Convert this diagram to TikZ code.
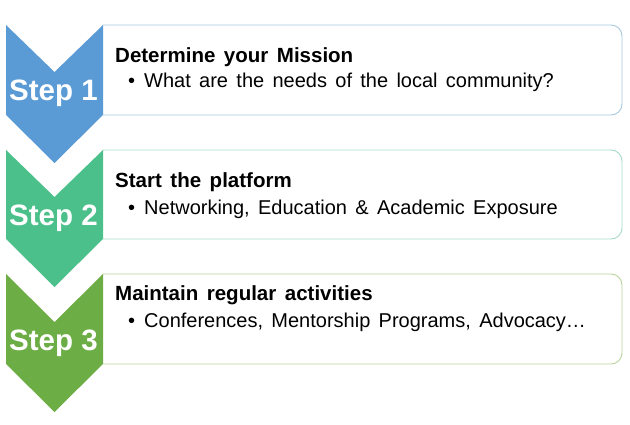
\documentclass[tikz,border=0pt]{standalone}
\usepackage{fontspec}
\setmainfont{Liberation Sans}
\newfontfamily\boxfont{Liberation Sans}[WordSpace=1.5]
\usepackage{tikz}
\usetikzlibrary{positioning}

\definecolor{blueone}{HTML}{5B9BD5}
\definecolor{tealtwo}{HTML}{4CC08A}
\definecolor{greenthree}{HTML}{6DAD45}
\definecolor{lineone}{HTML}{A7C8DD}
\definecolor{linetwo}{HTML}{A6DCC6}
\definecolor{linethree}{HTML}{BBD4A0}

\tikzset{
  framebox/.style={line width=0.9pt, rounded corners=11pt},
  steplabel/.style={text=white, font=\fontsize{29.5}{34}\selectfont\bfseries, inner sep=0pt},
  headtext/.style={anchor=base west, inner sep=0pt, font=\boxfont\fontsize{20.5}{24}\selectfont\bfseries},
  itemtext/.style={anchor=base west, inner sep=0pt, font=\boxfont\fontsize{20}{24}\selectfont},
}

\begin{document}
\begin{tikzpicture}[x=1pt, y=-1pt]

  \useasboundingbox (0,0) rectangle (630,425);

  % Frames
  \draw[framebox, lineone]    (103,25)  -- (622,25)  -- (622,115) -- (103,115);
  \draw[framebox, linetwo]    (103,150) -- (622,150) -- (622,239) -- (103,239);
  \draw[framebox, linethree]  (103,274) -- (622,274) -- (622,364) -- (103,364);

  % Chevrons
  \fill[blueone]    (6,25)  -- (54.5,72)  -- (103,25)  -- (103,115) -- (54.5,163) -- (6,115) -- cycle;
  \fill[tealtwo]    (6,150) -- (54.5,197) -- (103,150) -- (103,239) -- (54.5,287) -- (6,239) -- cycle;
  \fill[greenthree] (6,274) -- (54.5,322) -- (103,274) -- (103,364) -- (54.5,412) -- (6,364) -- cycle;

  % Define nodes
  \node[steplabel] (s1) at (53.5,93)  {Step 1};
  \node[steplabel] (s2) at (53.5,218) {Step 2};
  \node[steplabel] (s3) at (53.5,343) {Step 3};

  \node[headtext] (h1) at (115,63)  {Determine your Mission};
  \node[itemtext] (i1) at (128,88)  {\textbullet\hspace{9pt}What are the needs of the local community?};

  \node[headtext] (h2) at (115,188) {Start the platform};
  \node[itemtext] (i2) at (128,215) {\textbullet\hspace{9pt}Networking, Education \& Academic Exposure};

  \node[headtext] (h3) at (115,300) {Maintain regular activities};
  \node[itemtext] (i3) at (128,327) {\textbullet\hspace{9pt}Conferences, Mentorship Programs, Advocacy…};

\end{tikzpicture}
\end{document}
